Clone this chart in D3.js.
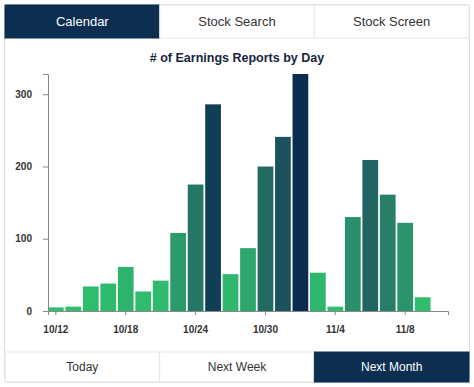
<!DOCTYPE html>
<html>
<head>
<meta charset="utf-8">
<script src="https://cdn.jsdelivr.net/npm/d3@7"></script>
<style>
  body { margin:0; background:#fff; font-family:"Liberation Sans", Arial, sans-serif; }
</style>
</head>
<body>
  <div id="my_dataviz"></div>
  <script>
    // data
    var days = ["10/12","10/13","10/14","10/15","10/18","10/19","10/20","10/21","10/24","10/25","10/26","10/27",
                "10/30","10/31","11/1","11/2","11/4","11/5","11/6","11/7","11/8","11/9","11/10"];
    var reports = [5,6,34,38,61,27,42,108,175,286,51,87,200,241,328,53,6,130,209,161,122,19,0];
    var shownTicks = ["10/12","10/18","10/24","10/30","11/4","11/8"];
    var topTabs = ["Calendar","Stock Search","Stock Screen"];
    var bottomTabs = ["Today","Next Week","Next Month"];
    var yTicks = [0,100,200,300];

    var W = 474, H = 387;
    var navy = "#0b2e51";

    var svg = d3.select("#my_dataviz")
      .append("svg")
      .attr("width", W)
      .attr("height", H);

    // card
    svg.append("rect")
      .attr("x",4.5).attr("y",4.5)
      .attr("width",465).attr("height",378)
      .attr("rx",4)
      .style("fill","#fff")
      .style("stroke","#dcdcdc");

    // top tabs
    var tabX = d3.scaleBand().domain(topTabs).range([5,469]);
    var tt = svg.selectAll(".toptab").data(topTabs).enter().append("g");
    tt.append("rect")
      .attr("x", d => tabX(d)).attr("y",5)
      .attr("width", tabX.bandwidth()).attr("height",33)
      .style("fill", (d,i) => i==0 ? navy : "#fff")
      .style("stroke", (d,i) => i==0 ? navy : "#e6e6e6");
    tt.append("text")
      .attr("x", d => tabX(d)+tabX.bandwidth()/2).attr("y",25.5)
      .attr("text-anchor","middle")
      .style("font-size","13px")
      .style("fill", (d,i) => i==0 ? "#fff" : "#333")
      .text(d => d);

    // bottom tabs
    var bt = svg.selectAll(".bottab").data(bottomTabs).enter().append("g");
    bt.append("rect")
      .attr("x", (d,i) => tabX(topTabs[i])).attr("y",352)
      .attr("width", tabX.bandwidth()).attr("height",30)
      .style("fill", (d,i) => i==2 ? navy : "#fff")
      .style("stroke", (d,i) => i==2 ? navy : "#e6e6e6");
    bt.append("text")
      .attr("x", (d,i) => tabX(topTabs[i])+tabX.bandwidth()/2).attr("y",371)
      .attr("text-anchor","middle")
      .style("font-size","12px")
      .style("fill", (d,i) => i==2 ? "#fff" : "#333")
      .text(d => d);

    // title
    svg.append("text")
      .attr("x",237).attr("y",62)
      .attr("text-anchor","middle")
      .style("font-size","12.5px")
      .style("font-weight","bold")
      .style("fill","#142640")
      .text("# of Earnings Reports by Day");

    // chart
    var x = d3.scaleBand().domain(days).range([48,448]).paddingInner(0.1).paddingOuter(0);
    var y = d3.scaleLinear().domain([0, d3.max(reports)]).range([311,74]);
    var color = d3.scaleLinear()
      .domain([0,40,70,120,200,260,328])
      .range(["#30bf6e","#2fbb6d","#2daf6c","#2a956a","#236a63","#17475c","#0a2c4f"]);

    svg.selectAll(".bar")
      .data(reports)
      .enter()
      .append("rect")
      .attr("x", (d,i) => x(days[i]))
      .attr("y", d => y(d))
      .attr("width", x.bandwidth())
      .attr("height", d => y(0) - y(d))
      .style("fill", d => color(d));

    var yAxis = svg.append("g")
      .attr("transform","translate(48,0)")
      .call(d3.axisLeft(y).tickValues(yTicks).tickSize(5).tickPadding(11));
    var xAxis = svg.append("g")
      .attr("transform","translate(0,311)")
      .call(d3.axisBottom(x).tickValues(shownTicks).tickSize(4).tickSizeOuter(4).tickPadding(11));

    [xAxis, yAxis].forEach(function(g){
      g.select(".domain").style("stroke","#888");
      g.selectAll(".tick line").style("stroke","#888");
      g.selectAll("text")
        .style("font-family","'Liberation Sans', Arial, sans-serif")
        .style("font-size","10px")
        .style("font-weight","bold")
        .style("fill","#333");
    });
  </script>
</body>
</html>
